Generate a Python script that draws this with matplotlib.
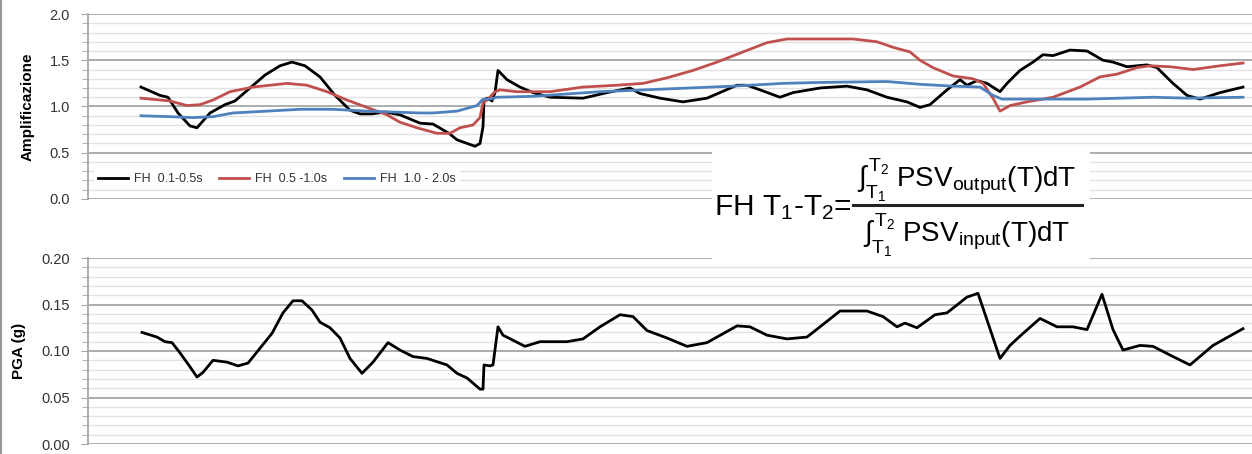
import matplotlib.pyplot as plt
from matplotlib.patches import Rectangle
from matplotlib.ticker import MultipleLocator
import numpy as np

plt.rcParams['font.family'] = ['Liberation Sans', 'DejaVu Sans']
plt.rcParams['mathtext.fontset'] = 'custom'
plt.rcParams['mathtext.rm'] = 'Liberation Sans'
plt.rcParams['mathtext.it'] = 'Liberation Sans'
plt.rcParams['mathtext.bf'] = 'Liberation Sans:bold'

# position along the profile (arbitrary units) and amplification factors
x_fh1 = [0, 19, 27, 37, 49, 56, 69, 84, 94, 109, 124, 139, 151, 164, 179, 194, 209, 219,
         231, 244, 259, 279, 292, 308, 316, 334, 339, 342, 343, 346, 351, 354, 357, 366,
         379, 392, 409, 442, 466, 489, 499, 519, 542, 566, 596, 606, 619, 639, 652, 679,
         706, 726, 746, 766, 779, 789, 806, 819, 826, 836, 846, 859, 866, 879, 892, 902,
         912, 929, 946, 962, 972, 986, 1006, 1016, 1032, 1046, 1059, 1079, 1102]
fh1 = [1.21, 1.12, 1.10, 0.93, 0.79, 0.77, 0.93, 1.02, 1.06, 1.20, 1.34, 1.44, 1.48, 1.44,
       1.32, 1.12, 0.96, 0.92, 0.92, 0.94, 0.91, 0.82, 0.81, 0.71, 0.64, 0.57, 0.60, 0.78,
       1.07, 1.09, 1.06, 1.15, 1.39, 1.29, 1.21, 1.15, 1.10, 1.09, 1.15, 1.20, 1.14, 1.09,
       1.05, 1.09, 1.23, 1.23, 1.18, 1.10, 1.15, 1.20, 1.22, 1.18, 1.10, 1.05, 0.99, 1.02,
       1.18, 1.29, 1.23, 1.28, 1.25, 1.16, 1.25, 1.39, 1.48, 1.56, 1.55, 1.61, 1.60, 1.50,
       1.48, 1.43, 1.45, 1.42, 1.25, 1.12, 1.08, 1.15, 1.21]

x_fh2 = [0, 29, 46, 59, 72, 89, 112, 146, 166, 186, 206, 226, 246, 259, 276, 296, 309, 319,
         332, 339, 342, 346, 354, 359, 376, 409, 442, 476, 502, 526, 552, 576, 602, 626,
         646, 669, 712, 736, 752, 769, 779, 792, 812, 832, 842, 852, 859, 869, 886, 912,
         939, 959, 976, 996, 1009, 1029, 1052, 1079, 1102]
fh2 = [1.09, 1.06, 1.01, 1.02, 1.07, 1.16, 1.21, 1.25, 1.23, 1.16, 1.07, 0.99, 0.91, 0.83,
       0.77, 0.71, 0.71, 0.77, 0.80, 0.88, 1.04, 1.07, 1.16, 1.18, 1.16, 1.16, 1.21, 1.23,
       1.25, 1.31, 1.39, 1.48, 1.59, 1.69, 1.73, 1.73, 1.73, 1.70, 1.64, 1.59, 1.50, 1.42,
       1.33, 1.30, 1.25, 1.09, 0.95, 1.01, 1.05, 1.10, 1.21, 1.32, 1.35, 1.42, 1.44, 1.43,
       1.40, 1.44, 1.47]

x_fh3 = [0, 29, 52, 72, 92, 126, 159, 192, 226, 279, 292, 316, 336, 342, 349, 356, 392,
         459, 526, 592, 642, 679, 746, 779, 812, 839, 852, 861, 912, 946, 979, 1012,
         1046, 1102]
fh3 = [0.90, 0.89, 0.88, 0.89, 0.93, 0.95, 0.97, 0.97, 0.95, 0.93, 0.93, 0.95, 1.01, 1.08,
       1.08, 1.10, 1.11, 1.16, 1.19, 1.22, 1.25, 1.26, 1.27, 1.24, 1.22, 1.21, 1.12, 1.08,
       1.08, 1.08, 1.09, 1.10, 1.09, 1.10]

# peak ground acceleration along the same profile
x_pga = [1, 16, 24, 31, 39, 49, 56, 62, 72, 86, 97, 107, 119, 131, 142, 152, 161, 171, 179,
         189, 199, 209, 221, 232, 247, 259, 272, 286, 306, 316, 326, 339, 342, 343, 349,
         352, 357, 362, 384, 399, 426, 442, 459, 479, 492, 506, 526, 546, 566, 596, 609,
         626, 646, 666, 679, 699, 726, 742, 756, 764, 776, 794, 806, 826, 837, 859, 869,
         879, 899, 916, 932, 946, 961, 972, 982, 999, 1012, 1032, 1049, 1072, 1102]
pga = [0.120, 0.115, 0.110, 0.109, 0.098, 0.083, 0.072, 0.077, 0.090, 0.088, 0.084, 0.087,
       0.103, 0.119, 0.141, 0.154, 0.154, 0.144, 0.131, 0.125, 0.114, 0.092, 0.076, 0.088,
       0.109, 0.101, 0.094, 0.092, 0.085, 0.076, 0.071, 0.059, 0.059, 0.085, 0.084, 0.085,
       0.126, 0.117, 0.105, 0.110, 0.110, 0.113, 0.126, 0.139, 0.137, 0.122, 0.114, 0.105,
       0.109, 0.127, 0.126, 0.117, 0.113, 0.115, 0.126, 0.143, 0.143, 0.137, 0.126, 0.130,
       0.125, 0.139, 0.141, 0.158, 0.162, 0.092, 0.106, 0.116, 0.135, 0.126, 0.126, 0.123,
       0.161, 0.123, 0.101, 0.106, 0.105, 0.094, 0.085, 0.106, 0.124]

labels = ['FH  0.1-0.5s', 'FH  0.5 -1.0s', 'FH  1.0 - 2.0s']
colors = ['#000000', '#c0504d', '#4f81bd']

W, H = 1252, 454
fig = plt.figure(figsize=(W / 100, H / 100), dpi=100)
xlim = (-53, 1111)


def style_axis(ax, major, minor, fmt, ylab):
    ax.set_xlim(*xlim)
    ax.yaxis.set_major_locator(MultipleLocator(major))
    ax.yaxis.set_minor_locator(MultipleLocator(minor))
    ax.yaxis.set_major_formatter(fmt)
    ax.grid(axis='y', which='major', color='#a6a6a6', lw=1.3)
    ax.grid(axis='y', which='minor', color='#e2e2e2', lw=1.0)
    ax.set_axisbelow(True)
    for s in ['top', 'right', 'bottom']:
        ax.spines[s].set_visible(False)
    ax.spines['left'].set_color('#a6a6a6')
    ax.spines['left'].set_linewidth(1.3)
    ax.tick_params(axis='y', which='both', direction='out', color='#a6a6a6',
                   labelsize=10.5, labelcolor='#333333', pad=8)
    ax.tick_params(axis='y', which='major', length=5)
    ax.tick_params(axis='y', which='minor', length=4)
    ax.set_xticks([])
    ax.set_ylabel(ylab, fontsize=11, fontweight='bold', labelpad=11)


ax1 = fig.add_axes([88 / W, 1 - 199 / H, (W - 88) / W, 185 / H])
ax1.set_ylim(0, 2.0)
style_axis(ax1, 0.5, 0.1, '{x:.1f}', 'Amplificazione')
for xs, ys, c, lab in zip([x_fh1, x_fh2, x_fh3], [fh1, fh2, fh3], colors, labels):
    ax1.plot(xs, ys, color=c, lw=2.0, label=lab, solid_joinstyle='round')
leg = ax1.legend(loc='lower left', bbox_to_anchor=(0.0, 0.02), ncol=3, fontsize=9,
                 frameon=True, framealpha=1, edgecolor='none', fancybox=False,
                 handlelength=2.4, handletextpad=0.5, columnspacing=1.3,
                 borderpad=0.3, borderaxespad=0.5)
for t in leg.get_texts():
    t.set_color('#333333')

ax2 = fig.add_axes([88 / W, 1 - 444 / H, (W - 88) / W, 186 / H])
ax2.set_ylim(0, 0.20)
style_axis(ax2, 0.05, 0.01, '{x:.2f}', 'PGA (g)')
ax2.plot(x_pga, pga, color='black', lw=2.0, solid_joinstyle='round')

# formula box laid over both panels
fig.patches.append(Rectangle((712 / W, 1 - 262 / H), 378 / W, 112 / H,
                             transform=fig.transFigure, facecolor='white',
                             edgecolor='none', zorder=5))
fig.text(714 / W, 1 - 208 / H, r'FH T$_1$-T$_2$=', fontsize=21.5, va='center',
         ha='left', zorder=6)
fig.text(967 / W, 1 - 180 / H,
         r'$\int_{\mathrm{T_1}}^{\mathrm{T_2}}\mathrm{\ PSV_{output}(T)dT}$',
         fontsize=20, va='center', ha='center', zorder=6)
fig.text(967 / W, 1 - 235 / H,
         r'$\int_{\mathrm{T_1}}^{\mathrm{T_2}}\mathrm{\ PSV_{input}(T)dT}$',
         fontsize=20, va='center', ha='center', zorder=6)
fig.add_artist(plt.Line2D([853 / W, 1082 / W], [1 - 205 / H, 1 - 205 / H],
                          color='#222222', lw=2.2, zorder=6))

# thin frame on the left edge
fig.add_artist(plt.Line2D([1 / W, 1 / W], [0, 1], color='#999999', lw=1.5))

fig.savefig('out.png', dpi=100, facecolor='white')
